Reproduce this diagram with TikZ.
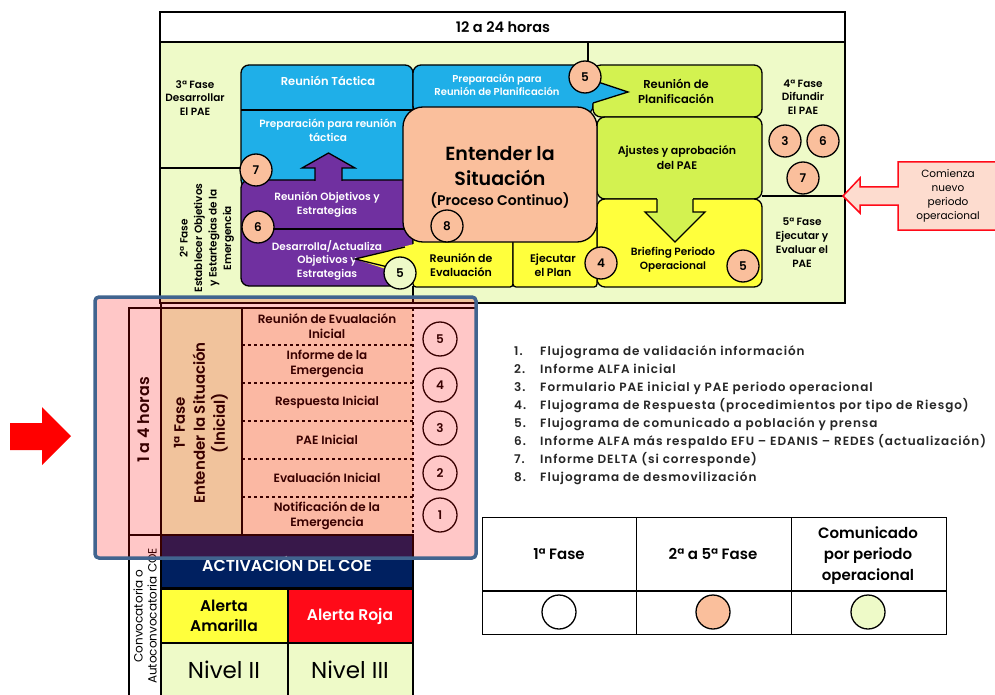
\documentclass[tikz,border=0pt]{standalone}
\usepackage{fontspec}
\setmainfont{Poppins}[BoldFont={Poppins SemiBold}]
\tikzset{>=stealth}
\definecolor{verdeclaro}{HTML}{EEFAC8}
\definecolor{azul}{HTML}{1FAFE8}
\definecolor{morado}{HTML}{7030A0}
\definecolor{durazno}{HTML}{FABF9C}
\definecolor{lima}{HTML}{D3F250}
\definecolor{amarillo}{HTML}{FFFF3C}
\definecolor{crema}{HTML}{FAEDD1}
\definecolor{marino}{HTML}{002060}
\definecolor{rojo}{HTML}{FF0A18}
\definecolor{resalte}{HTML}{41648F}
\definecolor{rosado}{HTML}{FDDCCF}
\tikzset{
  txt/.style={align=center, inner sep=0pt, font=\fontsize{10.5}{14}\selectfont\bfseries},
  txtb/.style={txt, text=white},
  num/.style={circle, draw=black, line width=1.3pt, minimum size=32pt, inner sep=0pt, fill=durazno, font=\fontsize{12}{14}\selectfont\bfseries},
  caja/.style={draw=black, line width=1.3pt, rounded corners=8pt},
  lista/.style={inner sep=0pt, font=\fontsize{12}{14}\selectfont\bfseries\addfontfeatures{LetterSpace=8}, text=black!85},
}

\begin{document}
\begin{tikzpicture}[x=1pt, y=-1pt]
\useasboundingbox (0,0) rectangle (995,695);

\filldraw[fill=verdeclaro, line width=2.5pt] (160,12) rectangle (845,303);
\filldraw[fill=white, line width=2.5pt] (160,12) rectangle (845,42);
\node[txt, font=\fontsize{14.5}{16}\selectfont\bfseries] (cab) at (503,27) {12 a 24 horas};
\draw[line width=1.5pt] (588,42) -- (588,65);
\draw[line width=1.5pt] (160,168) -- (241,168);
\draw[line width=1.5pt] (413,286) -- (413,303);
\draw[line width=1.5pt] (762,196) -- (845,196);

\node[txt, font=\fontsize{10.5}{13.5}\selectfont\bfseries] (f3) at (195,98) {3ª Fase\\Desarrollar\\El PAE};
\node[txt, rotate=90, font=\fontsize{10.5}{14.5}\selectfont\bfseries] (f2) at (207,238) {2ª Fase\\Establecer Objetivos\\y Estartegias de la\\Emergencia};
\node[txt, font=\fontsize{10.5}{13.5}\selectfont\bfseries] (f4) at (803,97) {4ª Fase\\Difundir\\El PAE};
\node[txt] (f5) at (802,243) {5ª Fase\\Ejecutar y\\Evaluar el\\PAE};

\filldraw[caja, fill=azul] (241,65) rectangle (413,188);
\draw[line width=1.3pt] (241,110) -- (413,110);
\filldraw[caja, fill=azul] (413,65) rectangle (593,114);
\filldraw[caja, fill=morado] (241,180) rectangle (413,286);
\draw[line width=1.3pt] (241,229) -- (413,229);
\filldraw[fill=morado, line width=1.3pt] (315,181) -- (315,168) -- (302,168) -- (328.5,153) -- (355,168) -- (342,168) -- (342,181);
\node[txtb, font=\fontsize{11.5}{14}\selectfont\bfseries] (rt) at (328,81) {Reunión Táctica};
\node[txtb] (prt) at (328,130) {Preparación para reunión\\táctica};
\node[txtb, font=\fontsize{10}{13.5}\selectfont\bfseries] (prp) at (497,85) {Preparación para\\Reunión de Planificación};
\node[txtb] (roe) at (327,205) {Reunión Objetivos y\\Estrategias};
\node[txtb, font=\fontsize{10.5}{13.5}\selectfont\bfseries] (doe) at (327,260) {Desarrolla/Actualiza\\Objetivos y\\Estrategias};

\filldraw[caja, fill=lima] (593,65) rectangle (762,117);
\filldraw[caja, fill=lima] (597,117) rectangle (762,199);
\filldraw[caja, fill=amarillo] (597,199) rectangle (762,287);
\filldraw[caja, fill=amarillo, rounded corners=3pt] (413,225) rectangle (513,287);
\filldraw[caja, fill=amarillo, rounded corners=3pt] (513,225) rectangle (597,287);
\fill[lima] (657,197) rectangle (693,213);
\filldraw[fill=lima, line width=1.3pt] (657,199) -- (657,212) -- (645,212) -- (675,242) -- (705,212) -- (693,212) -- (693,199);
\node[txt, font=\fontsize{11.5}{15}\selectfont\bfseries] (rp) at (676,91) {Reunión de\\Planificación};
\node[txt, font=\fontsize{11}{15}\selectfont\bfseries] (ap) at (677,158) {Ajustes y aprobación\\del PAE};
\node[txt] (bo) at (673,260) {Briefing Periodo\\Operacional};
\node[txt, font=\fontsize{11}{14}\selectfont\bfseries] (re) at (461,265) {Reunión de\\Evaluación};
\node[txt, font=\fontsize{11}{14}\selectfont\bfseries] (ep) at (553,265) {Ejecutar\\el Plan};

\filldraw[fill=durazno, line width=1.3pt, rounded corners=20pt] (403,107) rectangle (597,242);
\node[txt, font=\fontsize{19}{25}\selectfont\bfseries] (ent) at (500,166) {Entender la\\Situación};
\node[txt, font=\fontsize{14}{16}\selectfont\bfseries] (pc) at (500,200) {(Proceso Continuo)};

\fill[azul] (590,80) -- (628,92) -- (590,104) -- cycle;
\draw[line width=1.3pt] (598,82) -- (628,92) -- (593,103);
\fill[amarillo] (414,244) -- (355,259) -- (395,272) -- (414,272) -- cycle;
\draw[line width=1.3pt] (405,247) -- (355,259) -- (392,268);

\node[num] (c5a) at (585,77) {5};
\node[num] (c7a) at (256,170) {7};
\node[num] (c6a) at (258,227) {6};
\node[num] (c8) at (447,226) {8};
\node[num, fill=verdeclaro] (c5b) at (400,273) {5};
\node[num] (c4) at (601,263) {4};
\node[num] (c5c) at (743,266) {5};
\node[num] (c3) at (785,141) {3};
\node[num] (c6b) at (823,141) {6};
\node[num] (c7b) at (803,178) {7};

\filldraw[fill=rosado, draw=rojo, line width=1.5pt] (1000,162) -- (898,162) -- (898,187) -- (860,187) -- (860,178) -- (843,196) -- (860,213) -- (860,205) -- (898,205) -- (898,230) -- (1000,230);
\node[txt, font=\fontsize{10.5}{14}\selectfont] (cnp) at (948,196) {Comienza\\nuevo\\periodo\\operacional};

\fill[red] (10,423) -- (42,423) -- (42,407) -- (71,436) -- (42,465) -- (42,450) -- (10,450) -- cycle;

\fill[verdeclaro] (161,308) rectangle (242,535);
\fill[crema] (242,308) rectangle (413,535);
\draw[dashed, line width=1.2pt] (413,308) -- (413,535);
\draw[dashed, line width=1.2pt] (242,345) -- (413,345) (242,383) -- (413,383) (242,421) -- (413,421) (242,459) -- (413,459) (242,497) -- (413,497);
\draw[line width=2pt] (129,695) -- (129,308) -- (475,308);
\draw[line width=2pt] (161,303) -- (161,695);
\draw[line width=2pt] (242,308) -- (242,535);
\node[txt, rotate=90, font=\fontsize{16}{18}\selectfont\bfseries] (h14) at (144,420) {1 a 4 horas};
\node[txt, rotate=90, font=\fontsize{15}{20}\selectfont\bfseries] (f1) at (201,423) {1ª Fase\\Entender la Situación\\(Inicial)};
\node[txt, font=\fontsize{12}{15}\selectfont\bfseries] (r5) at (327,326) {Reunión de Evualación\\Inicial};
\node[txt, font=\fontsize{12}{15}\selectfont\bfseries] (r4) at (327,364) {Informe de la\\Emergencia};
\node[txt, font=\fontsize{12}{15}\selectfont\bfseries] (r3) at (327,402) {Respuesta Inicial};
\node[txt, font=\fontsize{12}{15}\selectfont\bfseries] (r2) at (327,440) {PAE Inicial};
\node[txt, font=\fontsize{12}{15}\selectfont\bfseries] (r1) at (327,478) {Evaluación Inicial};
\node[txt, font=\fontsize{12}{15}\selectfont\bfseries] (r0) at (327,516) {Notificación de la\\Emergencia};
\node[num, fill=white, minimum size=34pt] (d5) at (440,339) {5};
\node[num, fill=white, minimum size=34pt] (d4) at (440,385) {4};
\node[num, fill=white, minimum size=34pt] (d3) at (440,428) {3};
\node[num, fill=white, minimum size=34pt] (d2) at (440,473) {2};
\node[num, fill=white, minimum size=34pt] (d1) at (440,515) {1};

\filldraw[fill=marino, line width=2pt] (161,535) rectangle (413,588);
\draw[line width=2pt] (129,535) -- (161,535);
\node[txtb, font=\fontsize{16}{18}\selectfont\bfseries] (act) at (287,564) {ACTIVACIÓN DEL COE};
\filldraw[fill=amarillo, line width=2pt] (161,589) rectangle (288,643);
\filldraw[fill=rojo, line width=2pt] (288,589) rectangle (413,643);
\filldraw[fill=verdeclaro, line width=2pt] (161,643) rectangle (288,700);
\filldraw[fill=verdeclaro, line width=2pt] (288,643) rectangle (413,700);
\node[txt, font=\fontsize{15.5}{20}\selectfont\bfseries] (aa) at (224,616) {Alerta\\Amarilla};
\node[txtb, font=\fontsize{15.5}{20}\selectfont\bfseries] (ar) at (350,616) {Alerta Roja};
\node[txt, font=\fontsize{23}{26}\selectfont] (n2) at (224,670) {Nivel II};
\node[txt, font=\fontsize{23}{26}\selectfont] (n3) at (350,670) {Nivel III};
\node[txt, rotate=90, font=\fontsize{12}{14}\selectfont] (conv) at (145,616) {Convocatoria o\\Autoconvocatoria COE};

\fill[red, opacity=0.22, rounded corners=4pt] (95,297) rectangle (476,558);
\draw[resalte, line width=3.5pt, rounded corners=4pt] (95,297) rectangle (476,558);

\foreach \n/\t in {1/Flujograma de validación información, 2/Informe ALFA inicial, 3/Formulario PAE inicial y PAE periodo operacional, 4/Flujograma de Respuesta (procedimientos por tipo de Riesgo), 5/Flujograma de comunicado a población y prensa, 6/Informe ALFA más respaldo EFU – EDANIS – REDES (actualización), 7/Informe DELTA (si corresponde), 8/Flujograma de desmovilización}
{\node[lista, anchor=base west] (n\n) at (514,337+18*\n) {\n.};
 \node[lista, anchor=base west] (t\n) at (540,337+18*\n) {\t};}

\draw[line width=1pt] (482,517) rectangle (946,634);
\draw[line width=1pt] (636,517) -- (636,634) (791,517) -- (791,634);
\draw[line width=2pt] (482,591) -- (946,591);
\node[txt, font=\fontsize{15}{21}\selectfont\bfseries] (l1) at (559,554) {1ª Fase};
\node[txt, font=\fontsize{15}{21}\selectfont\bfseries] (l2) at (713,554) {2ª a 5ª Fase};
\node[txt, font=\fontsize{15}{21}\selectfont\bfseries] (l3) at (868,556) {Comunicado\\por periodo\\operacional};
\node[num, fill=white, minimum size=34pt] (k1) at (559,612) {};
\node[num, minimum size=34pt] (k2) at (713,612) {};
\node[num, fill=verdeclaro, minimum size=34pt] (k3) at (868,612) {};
\end{tikzpicture}
\end{document}
